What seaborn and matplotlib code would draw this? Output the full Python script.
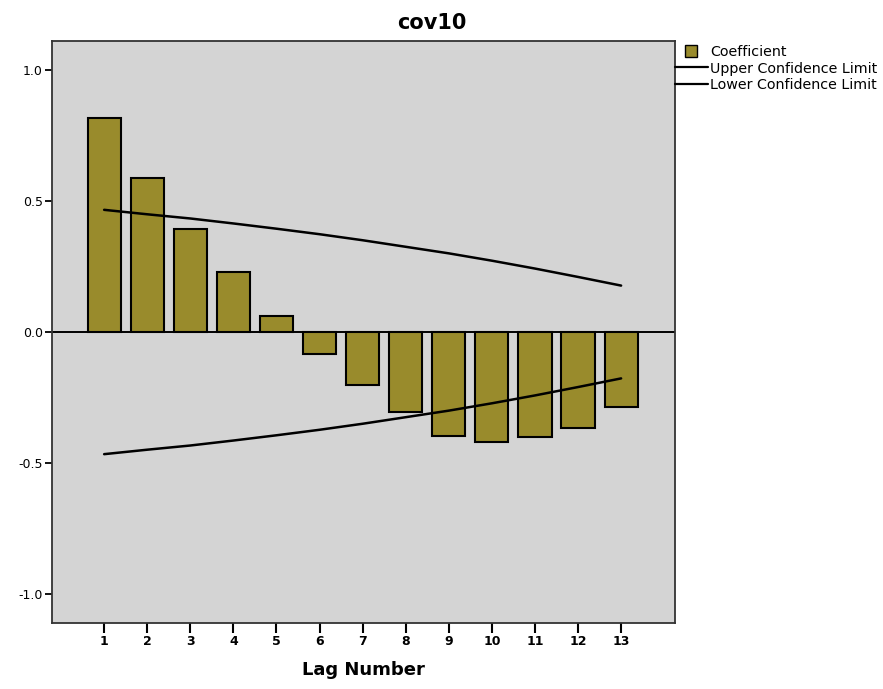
import matplotlib
matplotlib.use("Agg")
import matplotlib.pyplot as plt
import seaborn as sns
import pandas as pd
from matplotlib.lines import Line2D

# data
lags = [1, 2, 3, 4, 5, 6, 7, 8, 9, 10, 11, 12, 13]
coefficient = [0.816, 0.588, 0.393, 0.229, 0.060, -0.084, -0.202, -0.305, -0.397, -0.420, -0.402, -0.366, -0.286]
upper_limit = [0.466, 0.449, 0.433, 0.414, 0.394, 0.373, 0.350, 0.325, 0.300, 0.272, 0.242, 0.210, 0.177]
lower_limit = [-0.466, -0.449, -0.433, -0.414, -0.394, -0.373, -0.350, -0.325, -0.300, -0.272, -0.242, -0.210, -0.177]
ytick_vals = [-1.0, -0.5, 0.0, 0.5, 1.0]
ytick_labels = ["-1.0", "-0.5", "0.0", "0.5", "1.0"]

bar_color = "#998b2c"
bg_color = "#d4d4d4"

sns.set_style("white")
plt.rcParams['font.family'] = ['DejaVu Sans']
plt.rcParams['text.color'] = 'black'
plt.rcParams['axes.labelcolor'] = 'black'
plt.rcParams['xtick.color'] = 'black'
plt.rcParams['ytick.color'] = 'black'

df = pd.DataFrame({"Lag": lags, "Coefficient": coefficient,
                   "Upper": upper_limit, "Lower": lower_limit})

fig = plt.figure(figsize=(8.83, 6.89), dpi=100)
ax = fig.add_axes([0.0589, 0.0958, 0.7055, 0.8447])
ax.set_facecolor(bg_color)

sns.barplot(data=df, x="Lag", y="Coefficient", native_scale=True, width=0.77,
            color=bar_color, edgecolor="black", linewidth=1.5, saturation=1, ax=ax)
sns.lineplot(data=df, x="Lag", y="Upper", color="black", linewidth=1.8, ax=ax)
sns.lineplot(data=df, x="Lag", y="Lower", color="black", linewidth=1.8, ax=ax)
ax.axhline(0, color="black", linewidth=1.4)

ax.set_xlim(-0.21, 14.25)
ax.set_ylim(-1.11, 1.11)
ax.set_xticks(lags)
ax.set_xticklabels([str(l) for l in lags], fontsize=9, fontweight="bold")
ax.set_yticks(ytick_vals)
ax.set_yticklabels(ytick_labels, fontsize=9)
ax.tick_params(axis="x", direction="out", length=7, width=1.5, pad=2)
ax.tick_params(axis="y", direction="out", length=5, width=1.3, pad=1.5)
ax.tick_params(left=True, bottom=True)
for s in ax.spines.values():
    s.set_color("#333333")
    s.set_linewidth(1.3)

ax.set_xlabel("Lag Number", fontsize=13, fontweight="bold", labelpad=9)
ax.set_ylabel("")
fig.text(432 / 883, 1 - 23 / 689, "cov10", fontsize=15, fontweight="bold",
         ha="center", va="center")

handles = [
    Line2D([], [], marker="s", linestyle="none", markersize=9,
           markerfacecolor=bar_color, markeredgecolor="black"),
    Line2D([], [], color="black", linewidth=1.6),
    Line2D([], [], color="black", linewidth=1.6),
]
labels = ["Coefficient", "Upper Confidence Limit", "Lower Confidence Limit"]
ax.legend(handles, labels, loc="upper left", bbox_to_anchor=(1.0, 0.993),
          frameon=False, fontsize=10.3, handlelength=2.3, handletextpad=0.15,
          borderpad=0, borderaxespad=0, labelspacing=0.17)

fig.savefig("out.png", dpi=100)
